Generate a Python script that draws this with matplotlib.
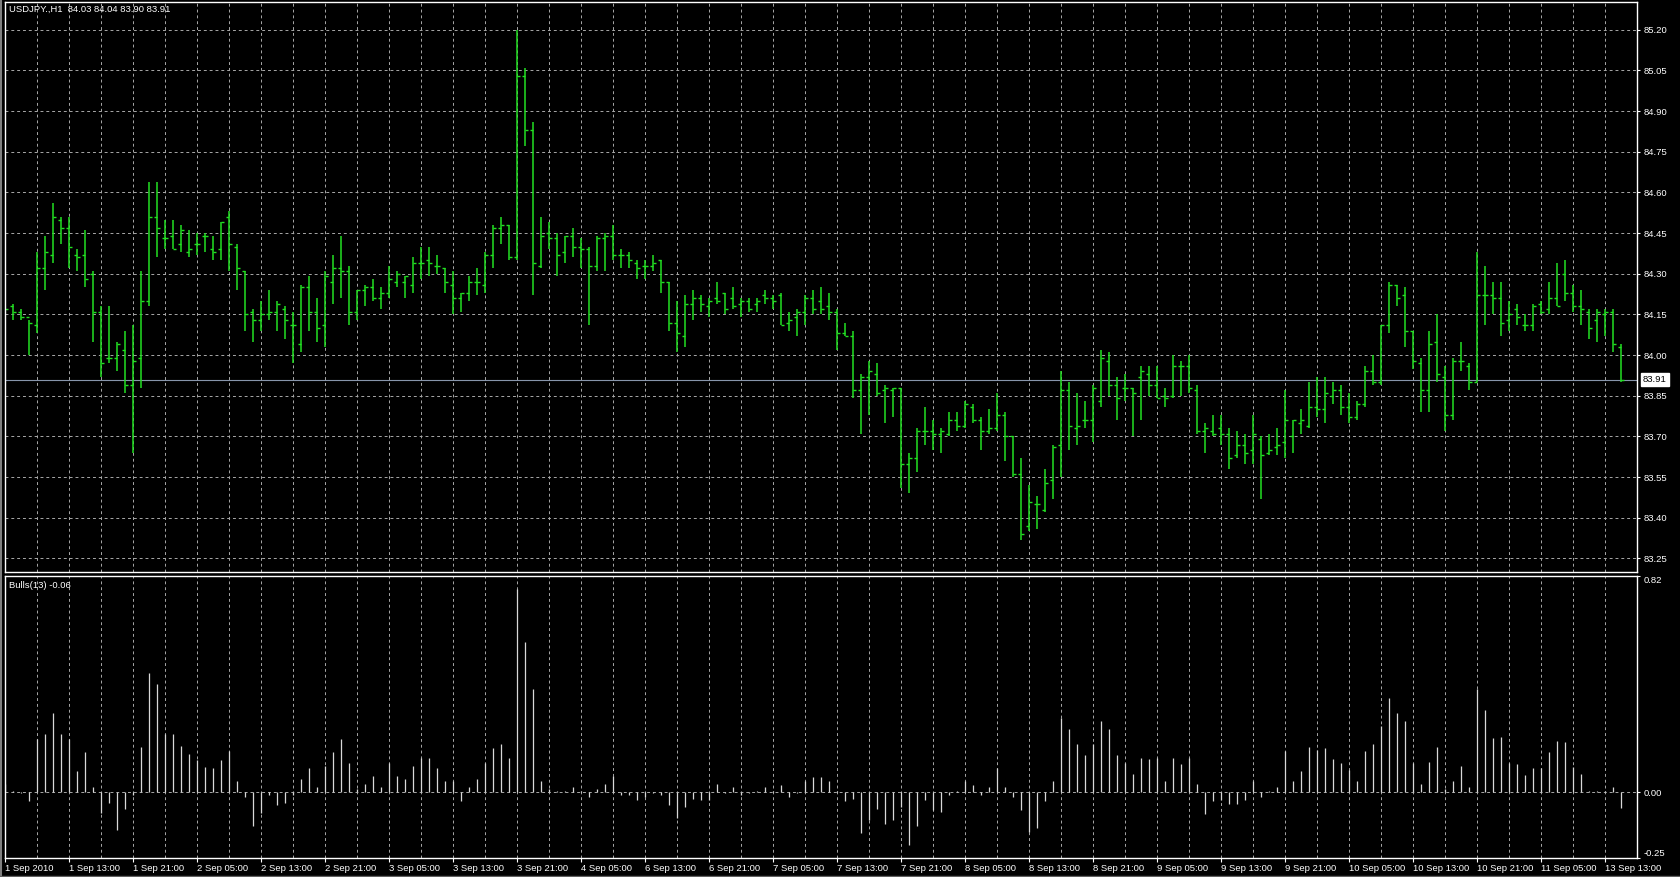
import numpy as np
import matplotlib
matplotlib.use("Agg")
import matplotlib.pyplot as plt
import matplotlib.transforms as mtransforms

plt.rcParams['font.family'] = ['Liberation Sans', 'DejaVu Sans']
plt.rcParams['font.size'] = 6.8

# USDJPY H1 bars
opens = [84.15, 84.18, 84.16, 84.14, 84.11, 84.32, 84.37, 84.50, 84.47, 84.37,
         84.37, 84.30, 84.16, 83.99, 83.99, 84.02, 83.89, 83.99, 84.20, 84.51,
         84.43, 84.44, 84.41, 84.38, 84.41, 84.44, 84.39, 84.39, 84.51, 84.40,
         84.31, 84.16, 84.13, 84.15, 84.16, 84.17, 84.11, 84.04, 84.25, 84.16,
         84.11, 84.27, 84.32, 84.31, 84.16, 84.24, 84.25, 84.21, 84.23, 84.27,
         84.27, 84.26, 84.34, 84.35, 84.33, 84.32, 84.26, 84.21, 84.23, 84.27,
         84.26, 84.37, 84.47, 84.48, 84.36, 85.03, 84.83, 84.33, 84.45, 84.43,
         84.38, 84.44, 84.40, 84.39, 84.33, 84.43, 84.44, 84.37, 84.37, 84.34,
         84.33, 84.33, 84.35, 84.27, 84.12, 84.07, 84.19, 84.21, 84.18, 84.21,
         84.23, 84.21, 84.19, 84.20, 84.19, 84.22, 84.21, 84.22, 84.12, 84.14,
         84.16, 84.21, 84.20, 84.18, 84.16, 84.08, 84.07, 83.87, 83.92, 83.93,
         83.87, 83.87, 83.88, 83.60, 83.62, 83.72, 83.72, 83.71, 83.71, 83.76,
         83.74, 83.81, 83.76, 83.72, 83.73, 83.78, 83.70, 83.56, 83.37, 83.45,
         83.43, 83.54, 83.67, 83.87, 83.73, 83.76, 83.76, 83.83, 83.98, 83.89,
         83.88, 83.88, 83.92, 83.93, 83.89, 83.85, 83.85, 83.96, 83.96, 83.87,
         83.72, 83.72, 83.73, 83.71, 83.63, 83.67, 83.65, 83.69, 83.64, 83.66,
         83.68, 83.70, 83.75, 83.74, 83.81, 83.80, 83.85, 83.87, 83.81, 83.77,
         83.82, 83.94, 83.90, 84.11, 84.26, 84.22, 84.09, 83.97, 83.87, 84.05,
         83.92, 83.78, 83.98, 83.96, 83.90, 84.22, 84.22, 84.21, 84.13, 84.17,
         84.11, 84.11, 84.19, 84.17, 84.21, 84.30, 84.23, 84.18, 84.16, 84.13,
         84.15, 84.16, 84.03]
highs = [84.22, 84.19, 84.17, 84.13, 84.38, 84.44, 84.56, 84.51, 84.51, 84.39,
         84.46, 84.31, 84.18, 84.18, 84.05, 84.09, 84.11, 84.31, 84.64, 84.64,
         84.50, 84.50, 84.48, 84.46, 84.45, 84.45, 84.44, 84.49, 84.53, 84.41,
         84.31, 84.17, 84.20, 84.24, 84.20, 84.18, 84.16, 84.26, 84.29, 84.21,
         84.31, 84.37, 84.44, 84.33, 84.24, 84.26, 84.28, 84.25, 84.33, 84.31,
         84.29, 84.36, 84.40, 84.40, 84.37, 84.32, 84.31, 84.23, 84.29, 84.32,
         84.38, 84.48, 84.51, 84.48, 85.20, 85.06, 84.86, 84.51, 84.49, 84.45,
         84.44, 84.47, 84.43, 84.40, 84.44, 84.45, 84.48, 84.39, 84.38, 84.35,
         84.35, 84.37, 84.35, 84.27, 84.20, 84.22, 84.24, 84.22, 84.21, 84.27,
         84.23, 84.25, 84.21, 84.21, 84.21, 84.24, 84.22, 84.23, 84.16, 84.17,
         84.22, 84.24, 84.25, 84.23, 84.17, 84.12, 84.09, 83.93, 83.98, 83.97,
         83.89, 83.88, 83.88, 83.64, 83.73, 83.81, 83.76, 83.73, 83.79, 83.79,
         83.83, 83.82, 83.77, 83.80, 83.86, 83.79, 83.70, 83.62, 83.52, 83.48,
         83.58, 83.67, 83.94, 83.90, 83.86, 83.83, 83.89, 84.02, 84.01, 83.92,
         83.93, 83.88, 83.96, 83.96, 83.96, 83.88, 84.00, 83.98, 84.00, 83.89,
         83.75, 83.78, 83.78, 83.73, 83.72, 83.71, 83.78, 83.70, 83.71, 83.73,
         83.87, 83.76, 83.80, 83.90, 83.92, 83.92, 83.90, 83.89, 83.86, 83.83,
         83.96, 84.00, 84.11, 84.27, 84.26, 84.25, 84.09, 83.99, 84.09, 84.15,
         83.96, 83.99, 84.05, 83.97, 84.38, 84.33, 84.27, 84.27, 84.20, 84.19,
         84.15, 84.19, 84.20, 84.27, 84.34, 84.35, 84.26, 84.24, 84.17, 84.17,
         84.17, 84.17, 84.04]
lows = [84.00, 84.13, 84.13, 84.00, 84.08, 84.24, 84.34, 84.41, 84.32, 84.31,
        84.25, 84.05, 83.92, 83.97, 83.94, 83.86, 83.64, 83.88, 84.18, 84.36,
        84.39, 84.39, 84.38, 84.36, 84.37, 84.38, 84.35, 84.35, 84.31, 84.24,
        84.09, 84.05, 84.09, 84.13, 84.09, 84.06, 83.97, 84.01, 84.09, 84.05,
        84.03, 84.19, 84.21, 84.11, 84.13, 84.18, 84.20, 84.17, 84.21, 84.25,
        84.21, 84.23, 84.28, 84.29, 84.30, 84.23, 84.15, 84.16, 84.20, 84.22,
        84.23, 84.32, 84.41, 84.35, 84.35, 84.77, 84.22, 84.32, 84.39, 84.29,
        84.34, 84.36, 84.32, 84.11, 84.31, 84.31, 84.35, 84.32, 84.32, 84.28,
        84.28, 84.31, 84.23, 84.09, 84.01, 84.03, 84.13, 84.16, 84.14, 84.19,
        84.15, 84.17, 84.14, 84.16, 84.16, 84.19, 84.17, 84.11, 84.09, 84.07,
        84.11, 84.15, 84.15, 84.13, 84.02, 84.07, 83.84, 83.71, 83.78, 83.85,
        83.75, 83.77, 83.51, 83.49, 83.57, 83.67, 83.65, 83.64, 83.70, 83.72,
        83.73, 83.75, 83.65, 83.71, 83.72, 83.61, 83.55, 83.32, 83.35, 83.36,
        83.42, 83.47, 83.55, 83.65, 83.67, 83.73, 83.68, 83.81, 83.85, 83.76,
        83.83, 83.70, 83.76, 83.85, 83.84, 83.81, 83.84, 83.85, 83.86, 83.71,
        83.64, 83.70, 83.67, 83.58, 83.62, 83.60, 83.60, 83.47, 83.63, 83.63,
        83.62, 83.64, 83.71, 83.73, 83.77, 83.75, 83.82, 83.78, 83.75, 83.76,
        83.81, 83.89, 83.89, 84.08, 84.18, 84.03, 83.95, 83.79, 83.79, 83.90,
        83.72, 83.76, 83.94, 83.87, 83.90, 84.11, 84.15, 84.07, 84.09, 84.11,
        84.09, 84.09, 84.15, 84.15, 84.18, 84.20, 84.16, 84.11, 84.06, 84.05,
        84.07, 84.01, 83.90]
closes = [84.17, 84.16, 84.14, 84.12, 84.32, 84.38, 84.51, 84.47, 84.40, 84.36,
          84.28, 84.16, 83.97, 83.99, 84.04, 83.89, 83.98, 84.20, 84.51, 84.47,
          84.43, 84.39, 84.46, 84.39, 84.41, 84.44, 84.38, 84.49, 84.41, 84.32,
          84.15, 84.13, 84.15, 84.16, 84.19, 84.13, 84.11, 84.25, 84.16, 84.10,
          84.29, 84.32, 84.31, 84.16, 84.24, 84.25, 84.21, 84.23, 84.28, 84.30,
          84.29, 84.34, 84.34, 84.34, 84.33, 84.27, 84.21, 84.23, 84.27, 84.27,
          84.37, 84.47, 84.48, 84.36, 85.03, 84.83, 84.34, 84.44, 84.43, 84.37,
          84.44, 84.40, 84.39, 84.33, 84.43, 84.44, 84.37, 84.37, 84.35, 84.32,
          84.33, 84.34, 84.27, 84.12, 84.08, 84.19, 84.21, 84.19, 84.20, 84.20,
          84.17, 84.18, 84.20, 84.17, 84.20, 84.21, 84.20, 84.11, 84.13, 84.16,
          84.21, 84.17, 84.17, 84.16, 84.08, 84.07, 83.87, 83.92, 83.94, 83.86,
          83.88, 83.88, 83.60, 83.62, 83.72, 83.72, 83.71, 83.72, 83.76, 83.74,
          83.82, 83.76, 83.72, 83.73, 83.78, 83.70, 83.56, 83.34, 83.46, 83.45,
          83.53, 83.66, 83.87, 83.74, 83.74, 83.76, 83.88, 83.99, 83.89, 83.84,
          83.88, 83.86, 83.94, 83.89, 83.84, 83.84, 83.96, 83.96, 83.88, 83.72,
          83.73, 83.71, 83.71, 83.62, 83.67, 83.64, 83.71, 83.63, 83.65, 83.67,
          83.76, 83.76, 83.76, 83.81, 83.80, 83.86, 83.87, 83.81, 83.77, 83.82,
          83.94, 83.90, 84.11, 84.26, 84.21, 84.09, 83.98, 83.87, 84.04, 83.93,
          83.78, 83.98, 83.98, 83.90, 84.22, 84.22, 84.21, 84.12, 84.15, 84.14,
          84.11, 84.18, 84.16, 84.21, 84.18, 84.23, 84.18, 84.17, 84.10, 84.16,
          84.16, 84.04, 83.91]

# Bulls(13) histogram
bulls = [0.03, 0.005, -0.005, -0.035, 0.20, 0.22, 0.30, 0.22, 0.20, 0.08,
         0.15, 0.02, -0.08, -0.04, -0.145, -0.065, -0.01, 0.17, 0.45, 0.41,
         0.22, 0.22, 0.175, 0.145, 0.12, 0.095, 0.09, 0.12, 0.155, 0.04,
         -0.02, -0.13, -0.08, -0.01, -0.05, -0.04, -0.01, 0.05, 0.09, 0.02,
         0.10, 0.15, 0.20, 0.11, 0.01, 0.03, 0.06, 0.02, 0.11, 0.06,
         0.05, 0.10, 0.13, 0.13, 0.09, 0.04, 0.04, -0.035, 0.02, 0.05,
         0.11, 0.165, 0.18, 0.13, 0.77, 0.57, 0.39, 0.04, 0.01, 0.005,
         0.002, 0.02, 0.002, -0.02, 0.01, 0.03, 0.06, -0.01, -0.01, -0.03,
         -0.02, -0.005, -0.01, -0.05, -0.10, -0.055, -0.025, -0.03, -0.03, 0.03,
         -0.005, 0.02, -0.01, -0.005, 0.002, 0.02, 0.002, 0.025, -0.02, -0.005,
         0.04, 0.055, 0.055, 0.04, 0.002, -0.035, -0.025, -0.155, -0.105, -0.065,
         -0.12, -0.105, -0.055, -0.20, -0.13, -0.03, -0.07, -0.075, -0.01, 0.002,
         0.04, 0.025, -0.01, 0.02, 0.09, 0.02, -0.02, -0.07, -0.15, -0.135,
         -0.035, 0.04, 0.28, 0.24, 0.18, 0.14, 0.18, 0.27, 0.24, 0.14,
         0.11, 0.07, 0.13, 0.125, 0.13, 0.04, 0.13, 0.105, 0.13, 0.03,
         -0.085, -0.035, -0.03, -0.045, -0.045, -0.03, 0.04, -0.02, 0.002, 0.02,
         0.155, 0.04, 0.08, 0.17, 0.16, 0.165, 0.125, 0.11, 0.085, 0.04,
         0.155, 0.18, 0.25, 0.355, 0.30, 0.27, 0.11, 0.03, 0.115, 0.17,
         0.01, 0.04, 0.10, 0.02, 0.39, 0.31, 0.205, 0.21, 0.11, 0.105,
         0.065, 0.09, 0.09, 0.15, 0.195, 0.19, 0.095, 0.07, 0.005, 0.002,
         0.002, 0.02, -0.06]

time_labels = ['1 Sep 2010', '1 Sep 13:00', '1 Sep 21:00', '2 Sep 05:00', '2 Sep 13:00',
               '2 Sep 21:00', '3 Sep 05:00', '3 Sep 13:00', '3 Sep 21:00', '4 Sep 05:00',
               '6 Sep 13:00', '6 Sep 21:00', '7 Sep 05:00', '7 Sep 13:00', '7 Sep 21:00',
               '8 Sep 05:00', '8 Sep 13:00', '8 Sep 21:00', '9 Sep 05:00', '9 Sep 13:00',
               '9 Sep 21:00', '10 Sep 05:00', '10 Sep 13:00', '10 Sep 21:00', '11 Sep 05:00',
               '13 Sep 13:00']
price_ticks = [83.25, 83.40, 83.55, 83.70, 83.85, 84.00, 84.15, 84.30,
               84.45, 84.60, 84.75, 84.90, 85.05, 85.20]
bulls_ticks = [-0.25, 0.00, 0.82]
last_price = 83.91

bar_color = '#22e022'
grid_color = '#a8a8a8'
grid_style = (0, (3, 3))

x = np.arange(len(closes))

fig = plt.figure(figsize=(16.8, 8.77), dpi=100, facecolor='black')
ax1 = fig.add_axes([0.00268, 0.3474, 0.9720, 0.6503], facecolor='black')
ax2 = fig.add_axes([0.00268, 0.02166, 0.9720, 0.3221], facecolor='black')

# --- price panel
ax1.vlines(x, lows, highs, color=bar_color, linewidth=1.1)
ax1.hlines(opens, x - 0.33, x, color=bar_color, linewidth=1.0)
ax1.hlines(closes, x, x + 0.33, color=bar_color, linewidth=1.0)
ax1.axhline(last_price, color='#8795ab', linewidth=0.8, zorder=1)

ax1.set_ylim(83.199, 85.302)
ax1.set_yticks(price_ticks)
ax1.set_yticklabels(['%.2f' % p for p in price_ticks])
ax1.yaxis.tick_right()

# --- bulls panel
ax2.vlines(x, 0, bulls, color='#d8d8d8', linewidth=0.9)
ax2.set_ylim(-0.25, 0.82)
ax2.set_yticks(bulls_ticks)
ax2.set_yticklabels(['%.2f' % v for v in bulls_ticks])
ax2.yaxis.tick_right()
labs = ax2.get_yticklabels()
labs[0].set_va('bottom')
labs[2].set_va('top')

tick_pos = np.arange(0, 8 * len(time_labels), 8)
for ax in (ax1, ax2):
    ax.set_xlim(-0.06, 204.06)
    ax.set_xticks(tick_pos)
    ax.set_xticks(tick_pos[:-1] + 4, minor=True)
    ax.grid(True, which='both', axis='x', color=grid_color, linestyle=grid_style, linewidth=0.7)
    ax.grid(True, which='major', axis='y', color=grid_color, linestyle=grid_style, linewidth=0.7)
    ax.set_axisbelow(True)
    for s in ax.spines.values():
        s.set_color('white')
        s.set_linewidth(1.0)
    ax.tick_params(axis='y', colors='white', direction='out', length=2.5, width=0.8,
                   pad=2, labelcolor='white')
    ax.tick_params(axis='x', which='minor', length=0)

ax1.tick_params(axis='x', which='major', length=0, labelbottom=False)
ax2.tick_params(axis='x', which='major', colors='white', direction='out', length=3,
                width=0.8, pad=1, labelcolor='white')
ax2.set_xticklabels(time_labels, ha='left')

# labels
ax1.text(0.0028, 0.988, 'USDJPY.,H1  84.03 84.04 83.90 83.91', color='white',
         transform=ax1.transAxes, ha='left', va='center')
ax2.text(0.0028, 0.966, 'Bulls(13) -0.06', color='white',
         transform=ax2.transAxes, ha='left', va='center')
trans = mtransforms.blended_transform_factory(ax1.transAxes, ax1.transData)
ax1.text(1.0034, last_price, '%.2f' % last_price, color='black', transform=trans,
         ha='left', va='center', clip_on=False,
         bbox=dict(facecolor='white', edgecolor='white', pad=1.3))

# window edges
fig.add_artist(plt.Line2D([0.0006, 0.0006], [0, 1], color='#808080', linewidth=1.5,
                          transform=fig.transFigure))
fig.add_artist(plt.Line2D([0, 1], [0.0008, 0.0008], color='#606060', linewidth=1.0,
                          transform=fig.transFigure))

fig.savefig('out.png', dpi=100, facecolor='black')
